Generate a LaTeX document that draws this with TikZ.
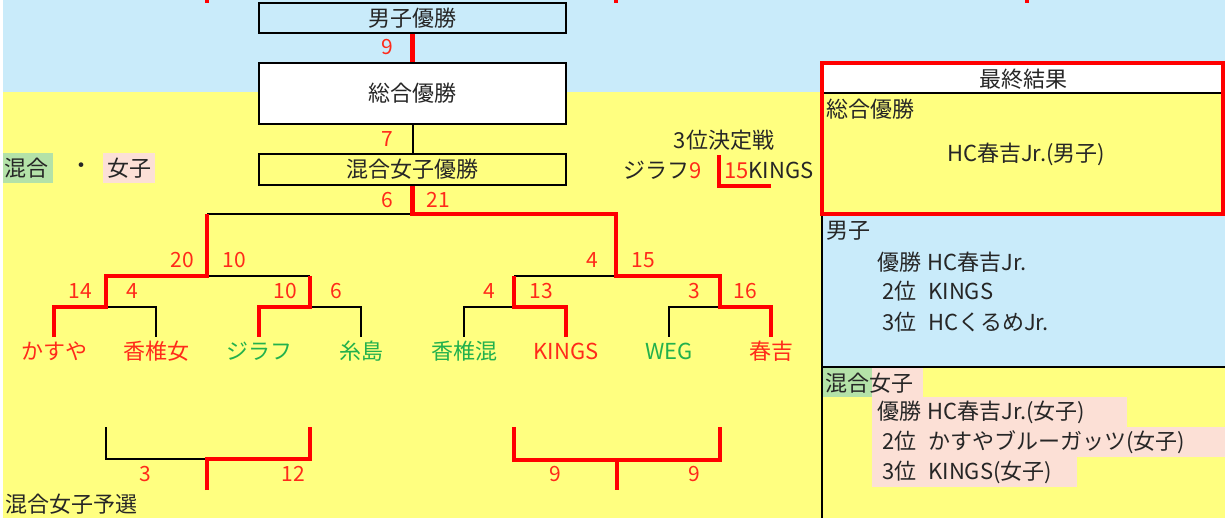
\documentclass[tikz,border=0pt]{standalone}
\usepackage{fontspec}
\usepackage{xcolor}
\usepackage{tikz}
\usetikzlibrary{positioning}
\newfontfamily\jpfont{Noto Sans CJK JP}
\definecolor{bgblue}{HTML}{C9EBFA}
\definecolor{bgyellow}{HTML}{FFFF80}
\definecolor{hlgreen}{HTML}{B4E2A8}
\definecolor{hlpink}{HTML}{FCE0D6}
\definecolor{tgreen}{HTML}{22B14C}
\definecolor{tred}{HTML}{FF2A1A}

\begin{document}
\begin{tikzpicture}[x=1pt, y=-1pt,
  every node/.style={font=\jpfont\fontsize{22}{26}\selectfont, text=black!85, inner sep=0pt},
  win/.style={red, line width=4.5pt},
  lose/.style={black, line width=2pt},
  score/.style={text=tred, font=\jpfont\fontsize{21}{25}\selectfont},
  team/.style={text height=17pt, text depth=2pt, inner ysep=5.5pt},
  wbox/.style={draw=black, line width=2.5pt, minimum width=307pt}]
  % Background
  \useasboundingbox (0,0) rectangle (1225,518);
  \fill[white] (0,0) rectangle (1225,518);
  \fill[bgblue] (3,0) rectangle (1225,92);
  \fill[bgyellow] (3,92) rectangle (1225,518);
  \foreach \x in {207,616,1027}
    \draw[win] (\x,0) -- (\x,3.5);

  % Finals
  \node[wbox, minimum height=30pt] (boys) at (412.5,18) {男子優勝};
  \node[wbox, fill=white, minimum height=61pt] (overall) at (412.5,93.5) {総合優勝};
  \node[wbox, minimum height=31pt] (mixgirls) at (412.5,169.5) {混合女子優勝};
  \draw[win] (boys.south) -- (overall.north);
  \draw[lose] (overall.south) -- (mixgirls.north);
  \node[score] (s9) at (387,47) {9};
  \node[score] (s7) at (387,139) {7};

  % Legend
  \fill[hlgreen] (3,153) rectangle (53,183);
  \fill[hlpink] (103,153) rectangle (155,183);
  \node (lgmix) at (27,168) {混合};
  \node (lgdot) at (81,168) {・};
  \node (lggirl) at (129,168) {女子};

  % Teams
  \node[team, text=tred] (kasuya) at (54,352) {かすや};
  \node[team, text=tred] (kashiijo) at (156,352) {香椎女};
  \node[team, text=tgreen] (jirafu) at (259,352) {ジラフ};
  \node[team, text=tgreen] (itoshima) at (361,352) {糸島};
  \node[team, text=tgreen] (kashiikon) at (464,352) {香椎混};
  \node[team, text=tred] (kings) at (566,352) {KINGS};
  \node[team, text=tgreen] (weg) at (669,352) {WEG};
  \node[team, text=tred] (harukichi) at (771,352) {春吉};

  % Bracket
  \coordinate (fin) at (412.5,214);
  \coordinate (sfL) at (207,276);
  \coordinate (sfR) at (616,276);
  \coordinate (qf1) at (106,307);
  \coordinate (qf2) at (310,307);
  \coordinate (qf3) at (514,307);
  \coordinate (qf4) at (720,307);
  \draw[lose] (fin) -- (sfL |- fin);
  \draw[lose] (sfL) -- (sfL -| qf2);
  \draw[lose] (qf1) -| (kashiijo.north);
  \draw[lose] (qf2) -| (itoshima.north);
  \draw[lose] (sfR) -- (sfR -| qf3);
  \draw[lose] (qf3) -| (kashiikon.north);
  \draw[lose] (qf4) -| (weg.north);
  \draw[win] (mixgirls.south) -- (fin) -| (sfR) -| (qf4) -| (harukichi.north);
  \draw[win] (sfL |- fin) -- (sfL) -| (qf1) -| (kasuya.north);
  \draw[win] (sfL -| qf2) -- (qf2) -| (jirafu.north);
  \draw[win] (sfR -| qf3) -- (qf3) -| (kings.north);

  % Scores
  \node[score] (s6) at (387,200) {6};
  \node[score] (s21) at (438,200) {21};
  \node[score] (s20) at (182,260) {20};
  \node[score] (s10a) at (234,260) {10};
  \node[score] (s4a) at (592,260) {4};
  \node[score] (s15) at (643,260) {15};
  \node[score] (s14) at (80,291) {14};
  \node[score] (s4b) at (132,291) {4};
  \node[score] (s10b) at (285,291) {10};
  \node[score] (s6b) at (336,291) {6};
  \node[score] (s4c) at (489,291) {4};
  \node[score] (s13) at (541,291) {13};
  \node[score] (s3) at (694,291) {3};
  \node[score] (s16) at (745,291) {16};

  % 3rd place
  \node (third) at (724,140) {3位決定戦};
  \node[anchor=east] (tjirafu) at (702,170) {ジラフ\textcolor{tred}{9}};
  \node[anchor=west] (tkings) at (724,170) {\textcolor{tred}{15}KINGS};
  \coordinate (tpA) at (719,155);
  \coordinate (tpB) at (771,186);
  \draw[win] (tpA) |- (tpB);

  % Prelims
  \coordinate (pa) at (106,427);
  \coordinate (pb) at (207,459);
  \coordinate (pc) at (207,490);
  \coordinate (pd) at (310,427);
  \coordinate (pe) at (514,427);
  \coordinate (pf) at (720,427);
  \coordinate (pg) at (617,490);
  \coordinate (ph) at (617,460);
  \draw[lose] (pa) |- (pb);
  \draw[win] (pc) -- (pb) -| (pd);
  \draw[win] (pe) |- (ph) -| (pf);
  \draw[win] (ph) -- (pg);
  \node[score] (p3) at (145,474) {3};
  \node[score] (p12) at (293,474) {12};
  \node[score] (p9a) at (555,474) {9};
  \node[score] (p9b) at (694,474) {9};
  \node[anchor=west] (prelim) at (5,504) {混合女子予選};

  % Results panel
  \fill[bgblue] (822,214) rectangle (1225,367);
  \fill[white] (822,63) rectangle (1225,93);
  \fill[hlgreen] (823,368) rectangle (872,397);
  \fill[hlpink] (872,368) rectangle (923,397);
  \fill[hlpink] (872,397) rectangle (1127,427);
  \fill[hlpink] (872,427) rectangle (1225,457);
  \fill[hlpink] (872,457) rectangle (1077,487);
  \draw[lose] (822,93) -- (1225,93);
  \draw[lose] (822,214) -- (822,518);
  \draw[lose] (822,367) -- (1225,367);
  \draw[red, line width=4pt] (822,63) rectangle (1223,214);
  \node (rhead) at (1023,79) {最終結果};
  \node[anchor=west] (rall) at (826,109) {総合優勝};
  \node (rallwin) at (1026,154) {HC春吉Jr.(男子)};
  \node[anchor=west] (rboys) at (826,231) {男子};
  \node[anchor=west] (rb1) at (877,262) {優勝\hspace{6pt}HC春吉Jr.};
  \node[anchor=west] (rb2) at (882,291) {2位\hspace{12pt}KINGS};
  \node[anchor=west] (rb3) at (882,322) {3位\hspace{12pt}HCくるめJr.};
  \node[anchor=west] (rgirls) at (825,383) {混合女子};
  \node[anchor=west] (rg1) at (877,412) {優勝\hspace{6pt}HC春吉Jr.(女子)};
  \node[anchor=west] (rg2) at (882,442) {2位\hspace{12pt}かすやブルーガッツ(女子)};
  \node[anchor=west] (rg3) at (882,472) {3位\hspace{12pt}KINGS(女子)};
\end{tikzpicture}
\end{document}
